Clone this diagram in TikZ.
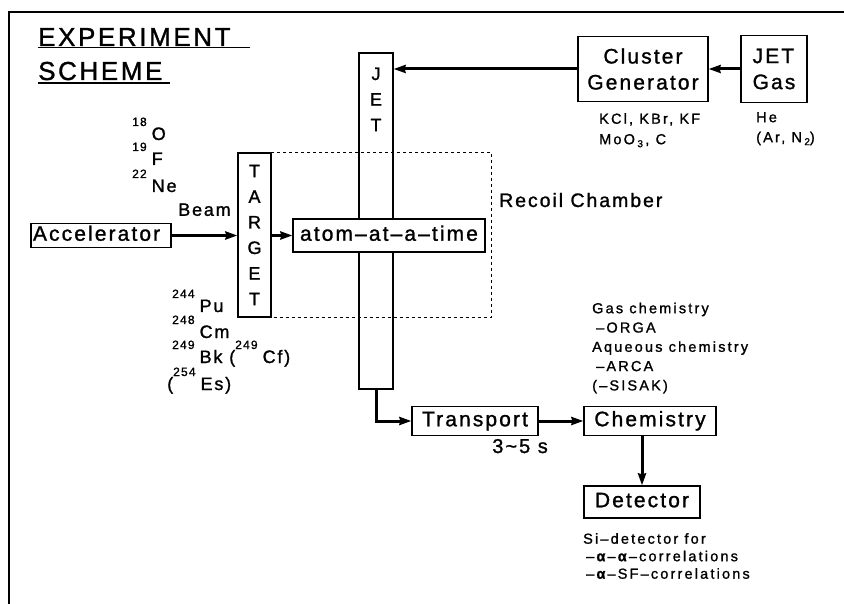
\documentclass[tikz,border=0pt]{standalone}
\usepackage{fontspec}
\setmainfont{Liberation Sans}[LetterSpace=10,FakeBold=1.2]
\newfontfamily\notefamily{Liberation Sans}[LetterSpace=15,FakeBold=1.2]
\usetikzlibrary{arrows.meta,positioning,calc}
\newcommand{\titlesize}{\fontsize{26}{34}\selectfont}
\newcommand{\blksize}{\fontsize{21}{26}\selectfont}
\newcommand{\vertsize}{\fontsize{18}{25.6}\selectfont}
\newcommand{\lblsize}{\fontsize{18}{26}\selectfont}
\newcommand{\notesize}{\notefamily\fontsize{14.5}{19.3}\selectfont}
\newcommand{\iso}[2]{\raisebox{14pt}{\fontsize{12}{12}\selectfont #1}\hspace{5pt}#2}
\newcommand{\lowidx}[1]{\raisebox{-3pt}{\fontsize{10}{10}\selectfont #1}}

\begin{document}
\begin{tikzpicture}[x=1pt, y=-1pt,
  blk/.style={draw, line width=1.2pt, inner sep=2pt},
  word/.style={font=\blksize, text height=15pt, text depth=4.5pt},
  lbl/.style={inner sep=0pt, font=\lblsize, anchor=base west},
  note/.style={inner sep=0pt, font=\notesize, align=left, anchor=north west},
  flow/.style={line width=3pt, -{Stealth[length=12pt,width=8pt,inset=1pt]}}]
\useasboundingbox (0,0) rectangle (844,604);
% frame and title
\draw[line width=1.2pt] (9,604) -- (9,12) -- (844,12);
\node[inner sep=0pt, font=\titlesize, anchor=base west] (title-a) at (38,46) {EXPERIMENT};
\node[inner sep=0pt, font=\titlesize, anchor=base west] (title-b) at (38,80) {SCHEME};
\draw[line width=1.3pt] ([yshift=-1.5pt]title-a.base west) -- ++(212,0);
\draw[line width=1.3pt] ([yshift=-3pt]title-b.base west) -- ++(132,0);
% beam, target, jet
\node[blk, word, text width=136pt, align=left] (acc) at (101,235.5) {Accelerator};
\node[blk, minimum width=33pt, minimum height=164pt, font=\vertsize, align=center, inner sep=0pt] (target) at (254.5,235) {T\\A\\R\\G\\E\\T};
\node[blk, minimum width=34pt, minimum height=336pt] (jet) at (376,221) {};
\node[font=\vertsize, align=center, inner sep=0pt, anchor=north] (jet-txt) at ([yshift=-15pt]jet.north) {J\\E\\T};
\draw[dashed, line width=1pt] (target.north east) rectangle (491,318);
\node[blk, word, minimum width=192pt, minimum height=33pt, fill=white] (atom) at (389,235.5) {atom–at–a–time};
\node[lbl, font=\fontsize{19.5}{24}\selectfont] (chamber) at (499,207) {Recoil Chamber};
\draw[flow] (acc.east) -- node[inner sep=0pt, font=\lblsize, above=18pt] (beam) {Beam} (acc.east -| target.west);
\draw[flow] (target.east |- atom.west) -- (atom.west);
% gas supply
\node[blk, minimum width=130pt, minimum height=65pt, font=\blksize, align=center] (cluster) at (643,69) {Cluster\\Generator};
\node[blk, minimum width=66pt, minimum height=67pt, font=\blksize, align=left] (gas) at (774,69) {JET\\Gas};
\draw[flow] (gas.west) -- (cluster.east);
\draw[flow] (cluster.west) -- (cluster.west -| jet.east);
\node[note, font=\notefamily\fontsize{14.5}{20.5}\selectfont] (cluster-txt) at (599,113) {KCl, KBr, KF\\MoO\,\lowidx{3}\,, C};
\node[note, font=\notefamily\fontsize{14.5}{20}\selectfont] (gas-txt) at (756,112) {He\\(Ar, N\,\lowidx{2})};
% projectiles and targets
\foreach \m/\e/\y/\n in {18/O/140/o, 19/F/165/f, 22/Ne/192/ne}
  \node[lbl] (proj-\n) at (132,\y) {\iso{\m}{\e}};
\node[lbl] (tgt-pu) at (172,312) {\iso{244}{Pu}};
\node[lbl] (tgt-cm) at (172,338) {\iso{248}{Cm}};
\node[lbl] (tgt-bk) at (172,363) {\iso{249}{Bk} (\iso{249}{Cf})};
\node[lbl] (tgt-es) at (167,390) {(\iso{254}{Es})};
% transport, chemistry, detection
\node[blk, word, minimum width=126pt, minimum height=29pt] (transport) at (475,421) {Transport};
\node[blk, word, minimum width=132pt, minimum height=29pt] (chem) at (650,421) {Chemistry};
\node[blk, word, minimum width=116pt, minimum height=32pt] (det) at (642,502) {Detector};
\draw[flow] (jet.south) |- (transport.west);
\draw[flow] (transport) -- (chem);
\draw[flow] (chem.south -| det.north) -- (det.north);
\node[lbl, anchor=base east, font=\fontsize{20}{24}\selectfont] (transit) at (548,453) {3\textasciitilde5 s};
\node[note] (chem-txt) at (592,302.5) {Gas chemistry\\\hspace*{4pt}–ORGA\\Aqueous chemistry\\\hspace*{4pt}–ARCA\\(–SISAK)};
\node[note, font=\notefamily\fontsize{14.5}{17.5}\selectfont] (det-txt) at (583,533) {Si–detector for\\\hspace*{3pt}–\textbf{α}–\textbf{α}–correlations\\\hspace*{3pt}–\textbf{α}–SF–correlations};
\end{tikzpicture}
\end{document}
